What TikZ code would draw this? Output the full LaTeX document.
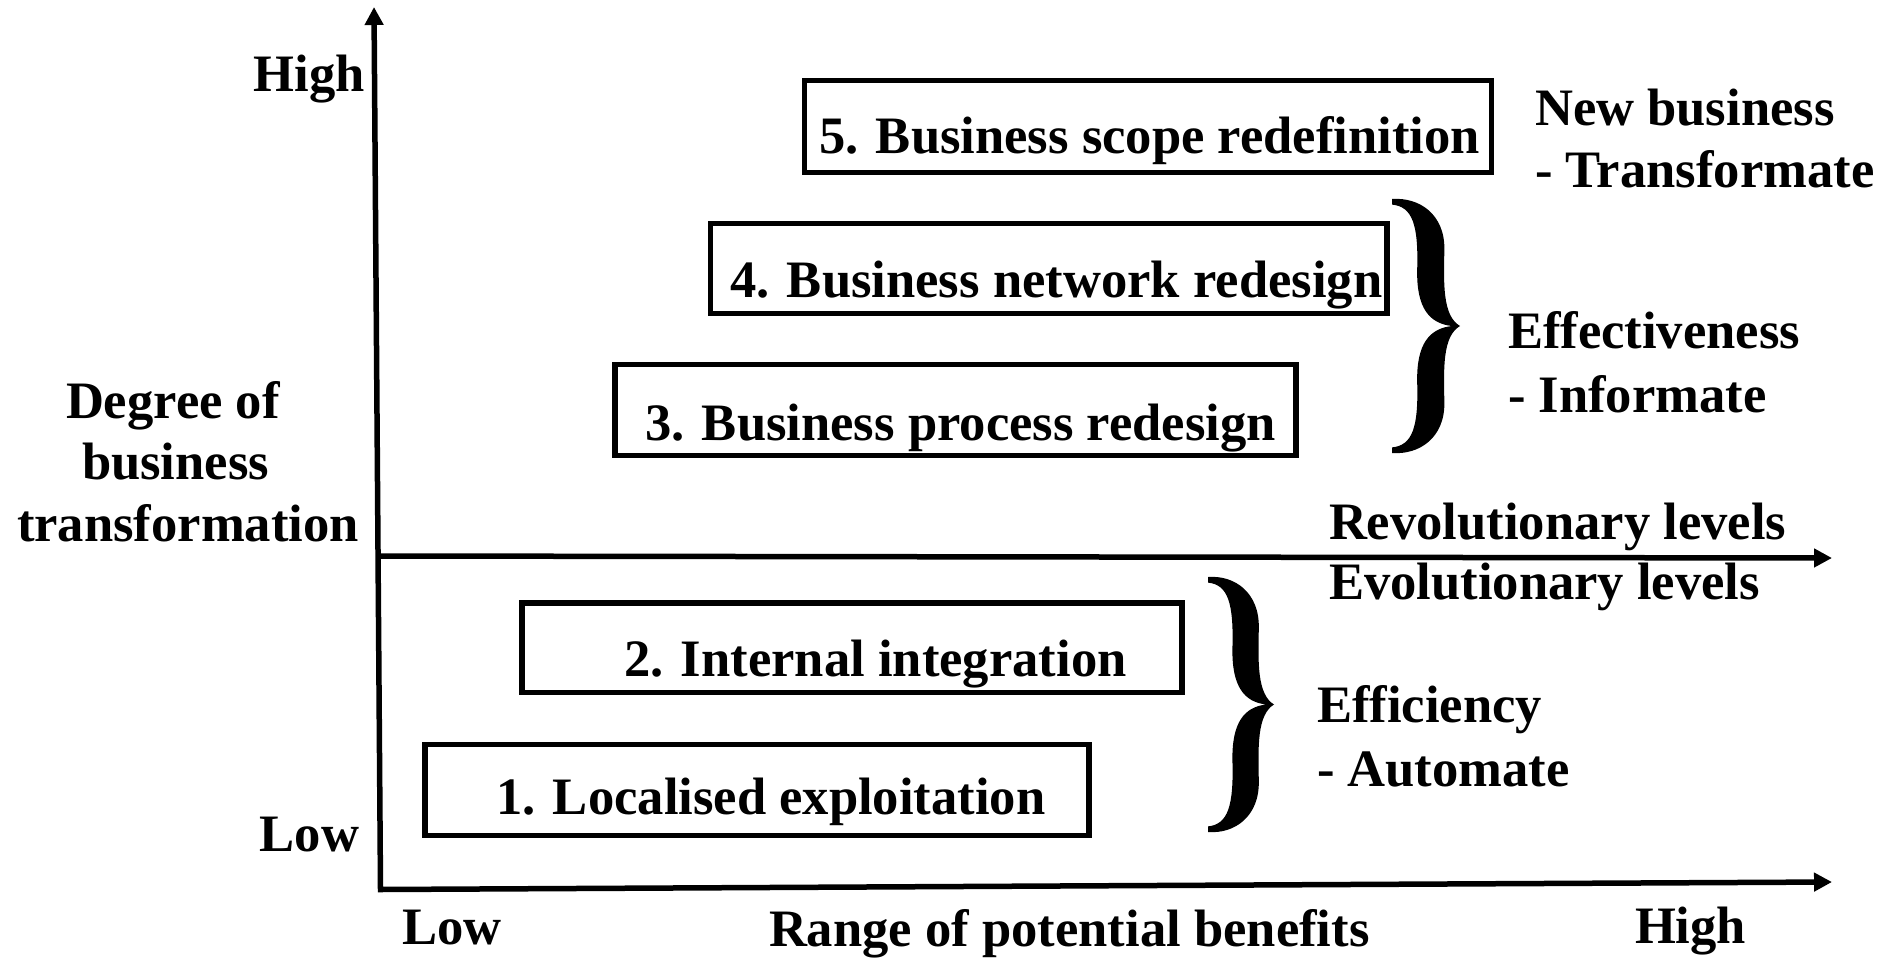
\documentclass[tikz,border=0pt]{standalone}
\usepackage{fontspec}
\setmainfont{Liberation Serif}
\usetikzlibrary{arrows.meta}
\tikzset{
  lbl/.style={font=\bfseries\fontsize{52.6}{60}\selectfont, inner sep=0pt, outer sep=0pt, anchor=base west},
  lblr/.style={lbl, anchor=base east},
  lvlbox/.style={draw, line width=5.5pt, inner sep=0pt, outer sep=0pt},
  axisline/.style={line width=5.5pt, line join=miter},
  tip/.style={-{Triangle[length=18pt,width=18pt]}},
  bracefill/.style={fill=black}
}
\newcommand{\bracepath}{%
  (0,0) .. controls (0.4,-0.008) and (0.78,0.06) .. (0.77,0.2)
  .. controls (0.76,0.33) and (0.74,0.46) .. (1,0.5)
  .. controls (0.74,0.54) and (0.76,0.67) .. (0.77,0.8)
  .. controls (0.78,0.94) and (0.4,1.008) .. (0,1)
  -- (0,0.978)
  .. controls (0.3,0.97) and (0.39,0.9) .. (0.37,0.72)
  .. controls (0.36,0.57) and (0.55,0.51) .. (0.88,0.5)
  .. controls (0.55,0.49) and (0.36,0.43) .. (0.37,0.28)
  .. controls (0.39,0.1) and (0.3,0.03) .. (0,0.022) -- cycle}
\begin{document}
\begin{tikzpicture}[x=1pt,y=-1pt]
\useasboundingbox (0,0) rectangle (1902,958);

% axes
\coordinate (ytip) at (374,7);
\coordinate (orig) at (380.5,889.5);
\coordinate (xtip) at (1832,882);
\coordinate (mleft) at (377,556);
\coordinate (mtip) at (1832,558);
\draw[axisline, {Triangle[length=18pt,width=18pt]}-{Triangle[length=18pt,width=18pt]}] (ytip) -- (orig) -- (xtip);
\draw[axisline, tip] (mleft) -- (mtip);

% boxes
\node[lvlbox, minimum width=687pt, minimum height=92pt] (b5) at (1148,126.5) {};
\node[lvlbox, minimum width=676.5pt, minimum height=90pt] (b4) at (1048.75,268.5) {};
\node[lvlbox, minimum width=681pt, minimum height=91pt] (b3) at (955.5,410) {};
\node[lvlbox, minimum width=660pt, minimum height=89.5pt] (b2) at (852,647.75) {};
\node[lvlbox, minimum width=664pt, minimum height=91pt] (b1) at (757,790) {};

% box texts
\node[lbl] (t5) at (819,153) {5. Business scope redefinition};
\node[lbl] (t4) at (730,297) {4. Business network redesign};
\node[lbl] (t3) at (645,440) {3. Business process redesign};
\node[lbl] (t2) at (624,676) {2. Internal integration};
\node[lbl] (t1) at (496,814) {1. Localised exploitation};

% axis labels
\node[lblr] (yhigh) at (365,92) {High};
\node[lblr] (ylow) at (359,851) {Low};
\node[lbl] (yl1) at (66,418) {Degree of};
\node[lbl] (yl2) at (82,479) {business};
\node[lbl] (yl3) at (17,541) {transformation};
\node[lbl] (xlow) at (402,944) {Low};
\node[lbl] (xlab) at (769,946) {Range of potential benefits};
\node[lbl] (xhigh) at (1635,943) {High};

% right side labels
\node[lbl] (nb1) at (1535,125) {New business};
\node[lbl] (nb2) at (1535,187) {- Transformate};
\node[lbl] (ef1) at (1508,348) {Effectiveness};
\node[lbl] (ef2) at (1508,412) {- Informate};
\node[lbl] (rev) at (1329,539) {Revolutionary levels};
\node[lbl] (evo) at (1329,599) {Evolutionary levels};
\node[lbl] (ec1) at (1317,722) {Efficiency};
\node[lbl] (ec2) at (1317,786) {- Automate};

% braces
\begin{scope}[shift={(1392,199)}, xscale=68, yscale=254]
  \fill[bracefill] \bracepath;
\end{scope}
\begin{scope}[shift={(1208,577)}, xscale=66, yscale=255]
  \fill[bracefill] \bracepath;
\end{scope}
\end{tikzpicture}
\end{document}
